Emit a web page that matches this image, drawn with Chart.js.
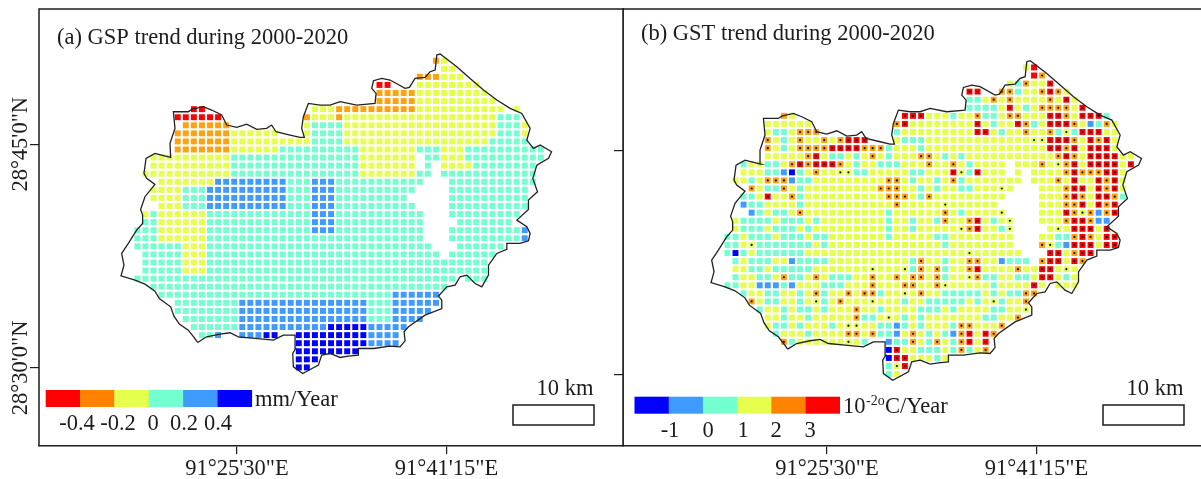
<!DOCTYPE html>
<html>
<head>
<meta charset="utf-8">
<script src="https://cdn.jsdelivr.net/npm/chart.js@4"></script>
<style>
  html, body { margin: 0; padding: 0; background: #fff; overflow: hidden; }
  canvas { position: absolute; top: 0; }
  #chartA { left: 0; }
  #chartB { left: 600px; }
</style>
</head>
<body>
<canvas id="chartA" width="624" height="479"></canvas>
<canvas id="chartB" width="601" height="479"></canvas>
<script>
// trend class of each grid cell, rows run north to south
// panel (a): "from-to + class" runs of columns
const gspRows = [
  '37-37O 38-38Y',
  '38-39Y',
  '35-37O 38-40Y',
  '30-31R 35-42Y',
  '30-34O 35-43Y',
  '30-34O 35-44Y',
  '7-8R 22-24Y 25-34O 35-45Y 47-47Y',
  '5-10R 21-21O 22-24Y 25-25O 26-44Y 45-47C',
  '6-11O 21-21Y 22-25C 26-44Y 45-47C 48-48Y',
  '5-11O 12-17Y 21-21Y 22-25C 26-44Y 45-47C 48-48Y',
  '5-11O 12-21Y 22-25C 26-43Y 44-48C',
  '5-11O 12-17Y 18-27C 28-34Y 35-37C 38-40Y 41-50C',
  '2-11Y 12-27C 28-34Y 36-37C 38-40Y 41-50C',
  '2-11Y 12-27C 28-34Y 36-36C 38-41Y 42-49C',
  '1-11Y 12-27C 28-34Y 35-36C 38-49C',
  '3-9Y 10-18B 19-21C 22-24B 25-35C 39-49C',
  '2-5Y 6-8C 9-18B 19-21C 22-24B 25-34C 39-48C',
  '2-5Y 6-8C 9-18B 19-21C 22-24B 25-33C 39-48C',
  '3-5Y 6-8C 9-18B 19-21C 22-24B 25-34C 39-48C',
  '1-1Y 2-2C 3-8Y 9-21C 22-24B 25-35C 39-47C',
  '1-2C 3-8Y 9-21C 22-24B 25-35C 40-46C',
  '0-2C 3-8Y 9-21C 22-24B 25-35C 39-47C 48-48B',
  '0-2C 3-8Y 9-35C 39-47C 48-48B',
  '0-5C 6-8Y 9-36C 40-45C',
  '1-5C 6-8Y 9-37C 39-44C',
  '1-5C 6-8Y 9-43C',
  '1-5C 6-8Y 9-43C',
  '0-39C 41-43C',
  '2-38C',
  '3-31C 32-37B',
  '5-12C 13-28B 29-31C 32-37B',
  '5-12C 13-28B 29-31C 32-36B',
  '6-12C 13-28B 29-31C 32-35B',
  '7-12C 13-23B 24-28D 29-33B',
  '8-9C 10-10B 13-15B 16-17D 20-28D 29-32B',
  '20-28D 29-32B',
  '20-27D',
  '20-22D',
  '20-21D'
];
// panel (b): "column:cells" per stretch, lower case r, o, y carry a significance dot
const gstRows = [
  '37:YR',
  '38:Ro',
  '35:YCoYYr',
  '30:rr 34:ooCYYoroY',
  '30:CCYoYoYYYYoYrY',
  '30:CCCCYrYCYooooYr',
  '7:OY 22:rrrYYYCYYoCCYooYYYrroYrrrC',
  '5:YYYYYY 21:orYYYYYYYYrYCYYroCYrrroYBCoY',
  '5:YCCYooo 21:CYYYYYYYYYrrYCYYoYYoCyCrrrYY',
  '5:oYCYoYYoYorrr 21:YCCCYYYYYYYYYYYYYyyrrroYrorY',
  '5:oYCYoooorrrroooCYYYCYYYYYYYYYYYYYYYrrorYrrrY',
  '5:YYYYYorYCCYCYoYCYYYooYCYCYYYYYYYYYYYoroYrrrrYY',
  '2:CYYCCYororrroYCYYCCCYYYoYYoYCYYYY 36:YYYoYyorYrrrrYr',
  '2:YYYCCBDCYoYYyyCCYYYYYCCYYYryCrYYY 36:Y 38:YYYYorooorrY',
  '1:YYCYoooBCCYYYYYYYYYooYCYYCYoCYYYYYYY 38:YYYoYrYYrorY',
  '3:oYCCoYCYYYYYYYYYoooYYCYCYYCCYYYyY 39:YYYorrYrorY',
  '2:CCYrYYoCYYYYYYYYYYoooYCoYYYYYYYYY 39:YYYoroYrroC',
  '2:BCCYYYYCYYYYYYYYYYYoYYYYYyYYYYYY 39:YYYoorYror',
  '3:BCYCCYoYYYYYYYYYYCYYYYYYoYCYYYYy 39:YYYroyoBor',
  '1:YCCCCYCCCYCYYYYYYYYCYYCYYCoYYorYCYy 39:YYYorroBB',
  '1:YCCCYCCCYCYYYYYYYYYCYYCYYYYYyorYYCy 40:YyYrrrYr',
  '0:CCYCCCYCCCYCCYYYYYYYCYYYYYCCYYYYYYYY 39:YYCCoroYrr',
  '0:CCYyCCCCCCCYCYYYYYYYYYYYYYYCYYYYYYYY 39:oyCBrrrYrr',
  '0:CDCYCCCCCCYYYYYYYYYYYYYYYYYYYYyYYYYYY 40:rrYorr',
  '1:CYCCCYYBCCCCYYYYYYYYYYCoYYCYYooYYBCCC 39:orrYro',
  '1:YYCCYCCCCCYYYYYYYyYYYyCoYoCYYorYYYYoYYrrYyY',
  '1:CYYCCYoCCYoYCCCYYoYYoYooYoCYYyoCCYYCCYrrYCY',
  '0:CCYYBBBCBYYYCCCYYYoYYYooYYoyYYYYYCYYYYrY 41:YYY',
  '2:CYYCCYYCYoCYYoYooCYYyYoYYCCCCCYCYCCoo',
  '3:oYCCYYCYyCYoYYYyYYYCYYCCCCCYCYyCYYo',
  '4:CYYCYCCYCYYYoYYCYYYYCCCYCYYYYCCYYy',
  '5:YYCYYCYYYYYoCCYyYCYCYYYYYYYCCYYo',
  '5:YCCYCYYYCYyyYYCCBCYCYYYCooYYYo',
  '6:CYYYCYYYYooYoCCBYoYCYCBorYro',
  '7:oCYYYYYYyYC 20:BCCoYCoYCorYr',
  '20:DrYYCCCYCoCYo',
  '20:DrrYYYCY',
  '20:Cyr',
  '20:CY'
];

// watershed outline in grid columns and rows
const outlineCols = [7.47,7.02,6.31,5.2,4.54,4.12,2.72,2.18,0.94,-0.3,-2.03,-1.66,-1.95,-1.12,-0.09,0.65,0.65,0.4,0.94,2.18,1.15,0.82,1.07,2.18,3.01,4.13,4.04,4.66,4.46,6.31,6.73,8.17,9.21,10.45,11.07,12.31,13.55,14.79,16.02,16.64,17.18,18.92,20.16,20.69,20.36,20.57,21.19,22.64,23.88,25.12,27.18,29.45,29.58,29.04,29.25,30.28,31.31,33.17,33.71,34.41,35.65,36.27,36.9,37.1,37.52,39.58,41.23,42.89,44.54,46.19,47.64,48.67,48.26,49.08,49.91,51.32,50.95,49.5,49.0,49.58,48.46,48.46,47.02,48.26,48.67,48.46,47.43,45.78,45.78,44.54,43.51,43.51,42.68,41.85,40.82,39.99,39.37,38.34,37.31,37.72,37.72,35.65,33.59,33.05,33.17,32.55,31.31,29.25,27.39,27.39,26.15,25.12,23.88,22.84,22.43,20.49,19.33,19.25,19.62,19.54,18.09,16.85,14.58,12.51,11.48,10.24,8.58,7.47];
const outlineRows = [34.91,34.29,33.38,32.64,31.65,30.49,29.46,28.55,27.68,27.19,26.65,25.33,23.88,22.64,20.99,20.16,19.13,18.43,16.85,15.33,14.58,13.96,12.1,11.48,11.69,11.98,10.24,8.38,6.32,6.32,6.03,5.7,6.11,6.73,7.97,8.26,7.85,8.51,8.38,7.97,8.8,9.21,9.5,9.5,8.38,6.94,5.29,5.49,5.49,5.08,5.49,5.29,4.05,3.43,2.48,2.19,2.39,3.43,3.3,2.19,2.06,1.36,1.15,-0.71,-0.83,0.74,2.19,3.63,4.87,5.91,6.53,8.38,9.83,10.86,10.45,11.28,12.1,12.93,14.58,16.24,17.27,18.43,19.75,20.57,21.4,22.31,22.64,22.64,23.38,23.88,25.33,26.57,28.01,27.6,26.57,26.77,27.81,28.01,29.17,29.67,30.7,31.53,32.97,33.59,34.71,35.45,35.37,35.66,35.66,36.48,36.61,36.77,36.28,36.48,37.72,38.76,37.93,36.28,35.66,34,34,34.62,34.41,34.21,33.71,33.87,34.21,34.91];

const lonTickCols = [12.34, 38.3];
const lonTickLabels = ['91°25\'30"E', '91°41\'15"E'];
const latTickRows = [10.35, 38.07];
const latTickLabels = ['28°45\'0"N', '28°30\'0"N'];

const gspLegendLabels = ['-0.4', '-0.2', '0', '0.2', '0.4'];
const gstLegendLabels = ['-1', '0', '1', '2', '3'];

const serif = '"Liberation Serif", serif';
const ink = '#1c1c1c';
const cellColors = { R: '#ff0000', O: '#ffa20c', Y: '#e6ff4d', C: '#73ffd0', B: '#3f9bff', D: '#0000ff' };
const gspLegendColors = ['#ff0000', '#ff8300', '#e6ff4d', '#73ffd0', '#3f9bff', '#0000ff'];
const gstLegendColors = ['#0000ff', '#3f9bff', '#73ffd0', '#e6ff4d', '#ff8300', '#ff0000'];

function parseGsp(rows) {
  const cells = [];
  rows.forEach((line, row) => {
    line.split(' ').forEach(run => {
      const m = run.match(/(\d+)-(\d+)(\w)/);
      for (let c = +m[1]; c <= +m[2]; c++) cells.push({ x: c, y: row, cls: m[3] });
    });
  });
  return cells;
}

function parseGst(rows) {
  const cells = [];
  rows.forEach((line, row) => {
    line.split(' ').forEach(part => {
      const [start, text] = part.split(':');
      [...text].forEach((ch, i) => {
        cells.push({ x: +start + i, y: row, cls: ch.toUpperCase(), dot: ch !== ch.toUpperCase() });
      });
    });
  });
  return cells;
}

function buildDatasets(cells) {
  const sets = Object.keys(cellColors).map(cls => ({
    data: cells.filter(c => c.cls === cls),
    pointStyle: 'rect',
    pointRadius: 4.2,
    pointHoverRadius: 4.2,
    pointBackgroundColor: cellColors[cls],
    pointBorderWidth: 0,
    order: 3
  }));
  sets.push({
    data: cells.filter(c => c.dot),
    pointStyle: 'circle',
    pointRadius: 1.1,
    pointBackgroundColor: '#111',
    pointBorderWidth: 0,
    order: 2
  });
  sets.push({
    data: outlineCols.map((c, i) => ({ x: c, y: outlineRows[i] })),
    showLine: true,
    borderColor: '#222',
    borderWidth: 1.3,
    pointRadius: 0,
    order: 1
  });
  return sets;
}

// frame, title, colour bar and scale bar inside a panel
const panelExtras = {
  id: 'panelExtras',
  afterDraw(chart, args, o) {
    const ctx = chart.ctx;
    const a = chart.chartArea;
    ctx.save();
    ctx.strokeStyle = ink;
    ctx.lineWidth = 1.5;
    ctx.beginPath();
    ctx.moveTo(a.left, a.bottom);
    ctx.lineTo(a.left, a.top);
    ctx.lineTo(a.right, a.top);
    if (o.closeRight) ctx.lineTo(a.right, a.bottom);
    ctx.stroke();

    ctx.fillStyle = ink;
    ctx.textBaseline = 'alphabetic';
    ctx.textAlign = 'left';
    ctx.font = '22.5px ' + serif;
    ctx.fillText(o.title, o.titleX, o.titleY);

    o.barColors.forEach((col, i) => {
      ctx.fillStyle = col;
      ctx.fillRect(o.barX + i * o.barStep, o.barY, o.barStep + 0.3, 17);
    });
    ctx.fillStyle = ink;
    ctx.textAlign = 'center';
    o.barLabels.forEach((t, i) => ctx.fillText(t, o.barLabelX[i], o.barLabelY));
    ctx.textAlign = 'left';
    o.unit.forEach(p => {
      ctx.font = p.size + 'px ' + serif;
      ctx.fillText(p.text, p.x, p.y);
    });

    ctx.font = '22.5px ' + serif;
    ctx.textAlign = 'center';
    ctx.fillText('10 km', o.scaleX + 52, o.scaleY - 10);
    ctx.lineWidth = 1.5;
    ctx.strokeRect(o.scaleX, o.scaleY, 81, 20);
    ctx.restore();
  }
};

function noPadding(axis) {
  axis.paddingLeft = axis.paddingRight = axis.paddingTop = axis.paddingBottom = 0;
}

function makeChart(id, cells, xr, yr, leftSize, labelLat, extras) {
  return new Chart(document.getElementById(id), {
    type: 'scatter',
    data: { datasets: buildDatasets(cells) },
    plugins: [panelExtras],
    options: {
      responsive: false,
      animation: false,
      events: [],
      layout: { autoPadding: false, padding: { top: 9, right: 0, left: 0, bottom: 0 } },
      plugins: { legend: { display: false }, tooltip: { enabled: false }, panelExtras: extras },
      scales: {
        x: {
          type: 'linear',
          min: xr[0],
          max: xr[1],
          afterBuildTicks: axis => { axis.ticks = lonTickCols.map(v => ({ value: v })); },
          afterFit: axis => { axis.height = 33; noPadding(axis); },
          grid: { drawOnChartArea: false, drawTicks: true, tickLength: 8, color: ink, lineWidth: 1.2 },
          border: { display: true, color: ink, width: 1.5 },
          ticks: {
            autoSkip: false,
            maxRotation: 0,
            padding: 2,
            color: ink,
            font: { family: serif, size: 22.5 },
            callback: (v, i) => lonTickLabels[i]
          }
        },
        y: {
          type: 'linear',
          reverse: true,
          min: yr[0],
          max: yr[1],
          afterBuildTicks: axis => { axis.ticks = latTickRows.map(v => ({ value: v })); },
          afterFit: axis => { axis.width = leftSize; noPadding(axis); },
          grid: { drawOnChartArea: false, drawTicks: true, tickLength: 9, color: ink, lineWidth: 1.2 },
          border: { display: false },
          ticks: {
            display: labelLat,
            autoSkip: false,
            minRotation: 90,
            maxRotation: 90,
            crossAlign: 'center',
            padding: -38,
            color: ink,
            font: { family: serif, size: 22.5 },
            callback: (v, i) => latTickLabels[i]
          }
        }
      }
    }
  });
}

makeChart('chartA', parseGsp(gspRows), [-12.19, 60.3], [-6.41, 47.74], 39, true, {
  closeRight: true,
  title: '(a) GSP trend during 2000-2020',
  titleX: 57, titleY: 44,
  barColors: gspLegendColors, barX: 45.7, barY: 390, barStep: 34.35,
  barLabels: gspLegendLabels, barLabelX: [77, 118, 153, 184, 218], barLabelY: 430,
  unit: [{ text: 'mm/Year', x: 255, y: 406, size: 22.5 }],
  scaleX: 513, scaleY: 405
});

makeChart('chartB', parseGst(gstRows), [-12.94, 58.69], [-7.24, 46.91], 23, false, {
  closeRight: false,
  title: '(b) GST trend during 2000-2020',
  titleX: 41, titleY: 40,
  barColors: gstLegendColors, barX: 34.5, barY: 396.7, barStep: 34.2,
  barLabels: gstLegendLabels, barLabelX: [70, 108, 143, 176, 210], barLabelY: 437,
  unit: [
    { text: '10', x: 243, y: 413, size: 22.5 },
    { text: '-2o', x: 266, y: 405, size: 14 },
    { text: 'C/Year', x: 285, y: 413, size: 22.5 }
  ],
  scaleX: 503, scaleY: 405
});
</script>
</body>
</html>
